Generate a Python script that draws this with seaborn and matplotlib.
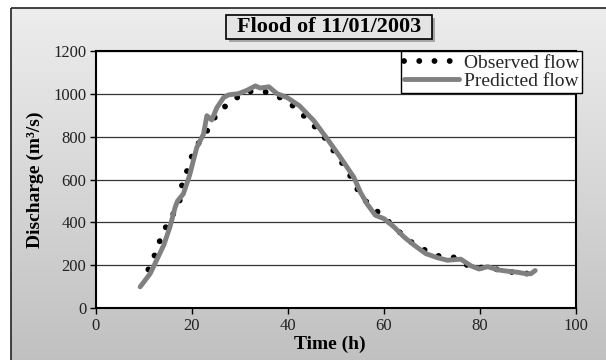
import numpy as np
import matplotlib
matplotlib.use("Agg")
import matplotlib.pyplot as plt
import seaborn as sns
from matplotlib.lines import Line2D
from matplotlib.patches import Rectangle

# ---- data ----
obs_time = [10.9, 12.1, 13.2, 14.3, 15.9, 17.4, 17.7, 18.7, 19.6, 20.7, 22.8, 24.0,
            25.9, 28.4, 31.1, 34.6, 37.7, 40.5, 42.9, 45.2, 47.5, 49.2, 51.0, 52.7,
            54.1, 55.8, 58.2, 60.7, 62.8, 65.3, 68.3, 71.5, 74.7, 77.7, 81.2, 84.7,
            88.2, 91.6]
obs_flow = [180, 240, 308, 368, 431, 491, 560, 621, 688, 750, 810, 867,
            924, 967, 1010, 1014, 991, 954, 906, 856, 800, 743, 686, 628,
            567, 507, 459, 409, 363, 313, 273, 242, 236, 195, 187, 177,
            161, 161]

pred_time = [9.2, 11.3, 12.3, 14.1, 15.4, 16.5, 17.0, 18.2, 19.5, 20.3, 21.0, 22.4,
             23.1, 24.1, 25.2, 26.6, 27.6, 29.7, 31.5, 33.2, 34.2, 36.0, 37.7, 39.8,
             42.4, 45.4, 48.2, 50.9, 53.7, 55.1, 56.5, 58.2, 60.0, 62.1, 64.2, 66.3,
             68.7, 71.1, 73.2, 76.0, 78.1, 79.8, 81.6, 83.7, 85.7, 87.8, 89.6, 90.6,
             91.5]
pred_flow = [99, 161, 208, 293, 378, 471, 500, 533, 620, 690, 750, 812,
             898, 878, 936, 983, 995, 1001, 1017, 1037, 1027, 1033, 1001, 983,
             944, 874, 789, 704, 611, 540, 485, 433, 417, 378, 331, 293,
             254, 235, 223, 228, 197, 182, 193, 178, 172, 167, 160, 160,
             175]

x_ticks = [0, 20, 40, 60, 80, 100]
y_ticks = [0, 200, 400, 600, 800, 1000, 1200]

title = "Flood of 11/01/2003"
series_labels = ["Observed flow", "Predicted flow"]

# ---- style ----
sns.set_theme(style="white")
plt.rcParams["font.family"] = ["Liberation Serif", "DejaVu Serif"]

W, H = 606, 360
fig = plt.figure(figsize=(W / 100, H / 100), dpi=100)
fig.patch.set_facecolor("white")

# background gradient panel with frame
bg = fig.add_axes([0, 0, 1, 1], zorder=-10)
grad = np.linspace(0, 1, 256).reshape(-1, 1, 1)
top_c = np.array([0.93, 0.93, 0.93]).reshape(1, 1, 3)
bot_c = np.array([0.75, 0.75, 0.75]).reshape(1, 1, 3)
img = top_c + (bot_c - top_c) * grad
bg.imshow(img, extent=[11, W + 10, H + 10, 8], aspect="auto", interpolation="bilinear")
bg.add_patch(Rectangle((11, 8), W + 20, H + 20, fill=False, ec="#222222", lw=1.2))
bg.set_xlim(0, W)
bg.set_ylim(H, 0)
bg.axis("off")

# main axes
ax = fig.add_axes([96 / W, 1 - 308 / H, 480 / W, 257 / H])
ax.set_facecolor("white")

dot_style = (0, (0.01, 2.6))
sns.lineplot(x=obs_time, y=obs_flow, ax=ax, color="black", lw=4.2,
             linestyle=dot_style, dash_capstyle="round",
             estimator=None, sort=False, zorder=3)
sns.lineplot(x=pred_time, y=pred_flow, ax=ax, color="#808080", lw=3.5,
             solid_capstyle="round", solid_joinstyle="round",
             estimator=None, sort=False, zorder=4)

ax.set_xlim(0, 100)
ax.set_ylim(0, 1200)
ax.set_xticks(x_ticks)
ax.set_yticks(y_ticks)
ax.yaxis.grid(True, color="#333333", lw=0.9)
ax.xaxis.grid(False)
for s in ax.spines.values():
    s.set_visible(True)
    s.set_color("black")
    s.set_linewidth(1.5)
ax.tick_params(bottom=True, left=True, direction="out", length=4, width=1,
               colors="black", labelsize=12, pad=3)
for lab in ax.get_xticklabels() + ax.get_yticklabels():
    lab.set_color("#222222")

ax.set_xlabel("Time (h)", fontsize=14, fontweight="bold", color="black")
ax.set_ylabel("Discharge (m³/s)", fontsize=14, fontweight="bold", color="black")
ax.xaxis.set_label_coords((330 - 96) / 480, -(344 - 308) / 257)
ax.yaxis.set_label_coords((35 - 96) / 480, 0.5)
ax.xaxis.label.set_va("center")
ax.yaxis.label.set_va("center")

if ax.get_legend() is not None:
    ax.get_legend().remove()

handles = [Line2D([], [], color="black", lw=4.2, linestyle=dot_style, dash_capstyle="round"),
           Line2D([], [], color="#808080", lw=3.5, solid_capstyle="round")]
leg = fig.legend(handles, series_labels, loc="upper right",
                 bbox_to_anchor=(582 / W, 1 - 51 / H), bbox_transform=fig.transFigure,
                 frameon=True, fancybox=False, framealpha=1, edgecolor="black",
                 fontsize=14, handlelength=2.8, handletextpad=0.25, borderpad=0.15,
                 labelspacing=0.05, borderaxespad=0)
leg.get_frame().set_linewidth(1.0)
leg.set_zorder(10)

# title box with shadow
fig.add_artist(Rectangle(((226 + 3) / W, 1 - (39 + 3) / H), 206 / W, 24 / H,
                         transform=fig.transFigure, fc="#7a7a7a", ec="none", alpha=0.6))
fig.add_artist(Rectangle((226 / W, 1 - 39 / H), 206 / W, 24 / H,
                         transform=fig.transFigure, fc="#e4e4e4", ec="black", lw=1.2))
fig.text(329 / W, 1 - 27 / H, title, ha="center", va="center",
         fontsize=16, fontweight="bold", color="black")

fig.savefig("out.png", dpi=100)
